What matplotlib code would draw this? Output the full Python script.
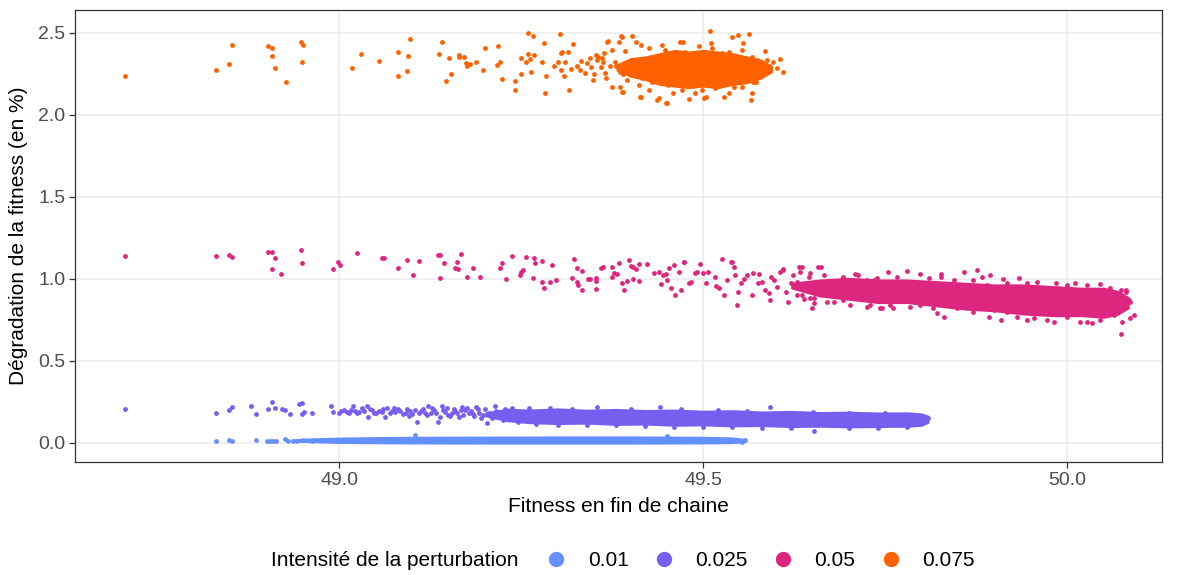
import matplotlib.pyplot as plt
from matplotlib.lines import Line2D

plt.rcParams['font.family'] = ['Liberation Sans', 'DejaVu Sans']

# Intensité 0.01 (bleu)
blue_x = [48.831, 48.848, 48.852, 48.885, 48.901, 48.905, 48.909, 48.913, 48.926, 48.929,
          48.936, 48.942, 48.950, 48.962, 48.975, 48.990, 49.104, 49.450, 49.550, 49.553, 49.557]
blue_y = [0.014, 0.018, 0.010, 0.018, 0.012, 0.013, 0.014, 0.012, 0.022, 0.014,
          0.015, 0.012, 0.018, 0.014, 0.016, 0.013, 0.047, 0.044, 0.015, 0.008, 0.020]
blue_band_x = [48.935, 48.96, 49.00, 49.05, 49.10, 49.20, 49.30, 49.40, 49.50, 49.54, 49.558]
blue_band_lo = [0.006, 0.002, -0.003, -0.005, -0.006, -0.007, -0.007, -0.007, -0.006, -0.004, 0.002]
blue_band_hi = [0.024, 0.031, 0.036, 0.039, 0.041, 0.042, 0.043, 0.043, 0.041, 0.037, 0.028]

# Intensité 0.025 (violet)
purple_x = [48.706, 48.831, 48.848, 48.852, 48.879, 48.885, 48.902, 48.908, 48.912, 48.921,
            48.926, 48.932, 48.945, 48.949, 48.951, 48.949, 48.962, 48.988, 48.992, 48.999,
            49.006, 49.013, 49.019, 49.022, 49.031, 49.038, 49.039, 49.045, 49.054, 49.063,
            49.066, 49.072, 49.081, 49.088, 49.093, 49.100, 49.107, 49.118, 49.122, 49.130,
            49.136, 49.141, 49.150, 49.159, 49.169, 49.178, 49.010, 49.027, 49.048, 49.058,
            49.077, 49.097, 49.112, 49.126, 49.145, 49.155, 49.165, 49.172, 49.185, 49.190,
            49.195, 49.203, 49.214, 49.237, 49.354, 49.441, 49.592, 49.500, 49.652, 49.225,
            49.245, 49.260, 49.290, 49.320, 49.270, 49.300, 49.340, 49.380, 49.420, 49.460,
            49.540, 49.580, 49.620, 49.700, 49.740, 49.780, 49.800, 49.808, 49.700, 49.750,
            49.650, 49.520, 49.470, 49.400, 49.560,
            49.003, 49.016, 49.024, 49.034, 49.042, 49.051, 49.060, 49.069, 49.075, 49.084,
            49.091, 49.096, 49.104, 49.110, 49.115, 49.121, 49.128, 49.133, 49.139, 49.143,
            49.148, 49.152, 49.157, 49.162, 49.167, 49.170, 49.176, 49.181, 49.184, 49.188,
            49.192, 49.198, 49.200, 49.206, 49.210, 49.215, 49.220, 49.228, 49.232, 49.240]
purple_y = [0.205, 0.185, 0.201, 0.221, 0.224, 0.175, 0.209, 0.250, 0.215, 0.205,
            0.199, 0.177, 0.238, 0.246, 0.191, 0.175, 0.181, 0.228, 0.187, 0.181,
            0.201, 0.185, 0.226, 0.197, 0.211, 0.228, 0.160, 0.201, 0.197, 0.157,
            0.211, 0.197, 0.207, 0.177, 0.209, 0.177, 0.130, 0.181, 0.228, 0.201,
            0.130, 0.228, 0.171, 0.197, 0.221, 0.185, 0.190, 0.186, 0.185, 0.190,
            0.188, 0.192, 0.195, 0.185, 0.190, 0.180, 0.160, 0.200, 0.165, 0.205,
            0.150, 0.120, 0.226, 0.211, 0.221, 0.217, 0.221, 0.096, 0.075, 0.140,
            0.130, 0.215, 0.213, 0.210, 0.115, 0.110, 0.108, 0.112, 0.105, 0.100,
            0.098, 0.092, 0.090, 0.090, 0.092, 0.095, 0.120, 0.150, 0.185, 0.182,
            0.190, 0.200, 0.205, 0.210, 0.195,
            0.195, 0.200, 0.182, 0.192, 0.205, 0.183, 0.205, 0.185, 0.215, 0.195,
            0.185, 0.165, 0.200, 0.180, 0.205, 0.170, 0.215, 0.180, 0.160, 0.200,
            0.215, 0.165, 0.210, 0.185, 0.200, 0.170, 0.215, 0.195, 0.175, 0.220,
            0.185, 0.170, 0.205, 0.180, 0.150, 0.195, 0.170, 0.205, 0.160, 0.190]
purple_band_x = [49.20, 49.23, 49.26, 49.30, 49.34, 49.38, 49.42, 49.46, 49.50,
                 49.54, 49.58, 49.62, 49.66, 49.70, 49.74, 49.78, 49.80, 49.81]
purple_band_lo = [0.160, 0.130, 0.118, 0.112, 0.115, 0.107, 0.109, 0.102, 0.104,
                  0.098, 0.100, 0.094, 0.096, 0.092, 0.094, 0.096, 0.102, 0.122]
purple_band_hi = [0.190, 0.212, 0.207, 0.214, 0.206, 0.211, 0.204, 0.207, 0.200,
                  0.203, 0.195, 0.199, 0.192, 0.194, 0.189, 0.190, 0.183, 0.168]

# Intensité 0.05 (magenta)
magenta_x = [48.706, 48.831, 48.848, 48.852, 48.902, 48.908, 48.912, 48.908, 48.920, 48.948,
             48.949, 48.991, 48.998, 49.001, 49.025, 49.058, 49.061, 49.081, 49.093, 49.101,
             49.109, 49.136, 49.139, 49.138, 49.144, 49.162, 49.167, 49.159, 49.163, 49.175,
             49.183, 49.193, 49.221, 49.224, 49.237, 49.229, 49.248, 49.250, 49.252, 49.257,
             49.267, 49.269, 49.278, 49.266, 49.278, 49.281, 49.290, 49.292, 49.298, 49.323,
             49.326, 49.320, 49.327, 49.328, 49.333, 49.334, 49.341, 49.345, 49.352, 49.353,
             49.352, 49.359, 49.362, 49.374, 49.377, 49.381, 49.375, 49.384, 49.388, 49.391,
             49.395, 49.398, 49.401, 49.404, 49.407, 49.411, 49.404, 49.412, 49.423, 49.432,
             49.439, 49.442, 49.445, 49.449, 49.450, 49.453, 49.455, 49.460, 49.461, 49.467,
             49.469, 49.473, 49.480, 49.483, 49.489, 49.492, 49.496, 49.499, 49.503, 49.507,
             49.516, 49.518, 49.521, 49.526, 49.528, 49.532, 49.538, 49.542, 49.544, 49.546,
             49.548, 49.552, 49.556, 49.560, 49.567, 49.568, 49.575, 49.577, 49.580, 49.585,
             49.590, 49.593, 49.597, 49.601, 49.606, 49.609, 49.613, 49.616, 49.620, 49.623,
             49.628, 49.631, 49.635, 49.638, 49.642, 49.646, 49.649, 49.652, 49.656, 49.658,
             49.635, 49.666, 49.645, 49.649, 49.692, 49.709, 49.753, 49.780, 49.797, 49.826,
             49.858, 49.876, 49.894, 49.883, 49.912, 49.934, 50.010, 50.073, 50.081, 50.086,
             50.075, 50.086, 50.074, 49.830, 49.821, 49.892, 49.909, 49.945, 49.972, 50.034,
             50.018, 49.473, 49.539, 49.661, 49.745, 49.761, 49.729, 49.702, 49.592, 49.633,
             49.610, 49.692, 49.713, 49.734, 49.679, 49.688, 49.710, 49.734, 49.752, 49.766,
             49.666, 49.652, 49.670, 49.628, 49.692, 49.725, 49.871, 49.890, 49.917, 49.945,
             49.958, 49.984, 49.999, 50.027, 50.045, 50.059, 50.066, 50.070, 50.064, 50.045,
             50.027, 49.999, 49.981, 49.954, 49.931, 49.917, 49.899, 49.871, 49.848, 49.816,
             49.798, 49.784, 49.771, 49.757, 49.743, 49.725, 49.679, 49.647, 49.826, 49.844,
             49.810, 49.790, 49.766, 49.739, 49.725, 49.679, 49.657, 50.091, 50.084, 50.080]
magenta_y = [1.140, 1.142, 1.148, 1.132, 1.165, 1.165, 1.130, 1.063, 1.030, 1.177,
             1.099, 1.063, 1.104, 1.085, 1.160, 1.130, 1.130, 1.069, 1.114, 1.026,
             1.108, 1.148, 1.148, 1.008, 1.099, 1.104, 1.154, 1.067, 1.059, 1.012,
             1.069, 1.010, 1.065, 1.099, 1.142, 1.002, 1.022, 1.045, 1.055, 1.136,
             1.130, 1.096, 1.108, 1.008, 0.980, 0.943, 0.984, 1.083, 0.992, 1.120,
             1.065, 1.004, 0.984, 0.962, 0.933, 1.049, 1.002, 0.998, 1.004, 0.941,
             0.990, 1.065, 1.071, 1.075, 1.035, 1.029, 1.010, 1.099, 0.974, 0.933,
             0.990, 1.114, 1.081, 1.071, 1.063, 1.091, 1.002, 0.988, 1.091, 1.039,
             1.045, 0.968, 1.024, 1.030, 0.994, 1.065, 0.943, 1.085, 0.902, 1.041,
             0.933, 1.104, 0.974, 0.980, 1.035, 1.045, 1.091, 1.035, 0.974, 1.041,
             1.010, 0.955, 0.943, 1.120, 0.902, 0.994, 1.104, 1.075, 1.024, 0.841,
             0.923, 0.974, 0.998, 1.024, 0.902, 1.035, 0.978, 1.029, 0.980, 0.933,
             0.913, 1.014, 0.994, 0.953, 1.045, 1.059, 0.923, 0.858, 0.974, 1.024,
             0.984, 1.071, 0.902, 0.876, 0.953, 1.035, 0.933, 0.852, 0.963, 1.075,
             1.071, 1.026, 1.010, 0.821, 1.014, 1.029, 1.045, 1.049, 1.030, 1.030,
             1.045, 1.057, 1.026, 1.010, 0.998, 1.004, 0.978, 0.933, 0.923, 0.862,
             0.740, 0.760, 0.663, 0.770, 0.791, 0.770, 0.750, 0.750, 0.750, 0.730,
             0.740, 1.106, 1.106, 1.075, 0.821, 0.825, 0.841, 0.841, 0.872, 1.045,
             1.055, 1.004, 1.024, 0.994, 0.963, 0.923, 0.923, 0.902, 0.923, 0.943,
             0.913, 0.882, 0.862, 0.902, 0.872, 0.953, 0.994, 0.963, 0.974, 0.978,
             0.984, 0.974, 0.963, 0.963, 0.970, 0.943, 0.902, 0.831, 0.780, 0.750,
             0.740, 0.770, 0.740, 0.760, 0.770, 0.801, 0.811, 0.801, 0.821, 0.821,
             0.841, 0.831, 0.872, 0.841, 0.821, 0.831, 0.862, 0.882, 1.014, 0.994,
             1.004, 0.984, 1.014, 1.004, 0.994, 0.984, 0.974, 0.780, 0.872, 0.933]
magenta_core_x = [49.62, 49.66, 49.70, 49.74, 49.78, 49.82, 49.86, 49.90, 49.94,
                  49.98, 50.02, 50.05, 50.07, 50.085]
magenta_core_lo = [0.94, 0.89, 0.87, 0.85, 0.85, 0.83, 0.81, 0.80, 0.78,
                   0.77, 0.77, 0.76, 0.78, 0.82]
magenta_core_hi = [0.98, 1.00, 1.01, 1.00, 1.00, 0.99, 0.98, 0.97, 0.97,
                   0.96, 0.95, 0.95, 0.93, 0.89]

# Intensité 0.075 (orange)
orange_x = [48.706, 48.831, 48.848, 48.852, 48.902, 48.908, 48.908, 48.912, 48.927, 48.948,
            48.950, 48.949, 49.018, 49.030, 49.054, 49.081, 49.080, 49.094, 49.093, 49.097,
            49.137, 49.141, 49.146, 49.154, 49.151, 49.164, 49.165, 49.171, 49.174, 49.175,
            49.180, 49.188, 49.198, 49.200, 49.218, 49.217, 49.221, 49.223, 49.242, 49.242,
            49.249, 49.249, 49.259, 49.266, 49.259, 49.267, 49.257, 49.262, 49.264, 49.281,
            49.278, 49.284, 49.282, 49.303, 49.304, 49.306, 49.314, 49.321, 49.301, 49.310,
            49.295, 49.305, 49.308, 49.316, 49.318, 49.326, 49.332, 49.340, 49.330, 49.338,
            49.349, 49.346, 49.352, 49.354, 49.362, 49.363, 49.368, 49.374, 49.375, 49.385,
            49.387, 49.389, 49.402, 49.413, 49.437, 49.450, 49.480, 49.501, 49.509, 49.548,
            49.563, 49.539, 49.555, 49.567, 49.566, 49.605, 49.609, 49.601, 49.585, 49.587,
            49.581, 49.573, 49.568, 49.369, 49.384, 49.388, 49.407, 49.414, 49.425, 49.443,
            49.448, 49.468, 49.472, 49.494, 49.510, 49.512, 49.553, 49.356, 49.361, 49.365,
            49.367, 49.388, 49.386, 49.395, 49.400, 49.393, 49.411, 49.414, 49.425, 49.420,
            49.432, 49.436, 49.439, 49.449, 49.459, 49.471, 49.489, 49.503, 49.498, 49.516,
            49.528, 49.535, 49.542, 49.553, 49.571, 49.578, 49.574, 49.567, 49.457, 49.475,
            49.525, 49.535, 49.544, 49.379, 49.405, 49.416, 49.409, 49.427, 49.443, 49.445,
            49.452, 49.372, 49.395, 49.380, 49.390, 49.398, 49.402, 49.418, 49.422, 49.430,
            49.434, 49.440, 49.446, 49.455, 49.462, 49.470, 49.485, 49.492, 49.505, 49.520,
            49.530, 49.548, 49.558, 49.562, 49.575, 49.590, 49.596, 49.360, 49.350, 49.344]
orange_y = [2.240, 2.272, 2.309, 2.425, 2.423, 2.410, 2.360, 2.285, 2.203, 2.443,
            2.425, 2.323, 2.289, 2.374, 2.327, 2.384, 2.238, 2.362, 2.268, 2.465,
            2.372, 2.445, 2.207, 2.248, 2.349, 2.356, 2.366, 2.354, 2.319, 2.299,
            2.313, 2.321, 2.274, 2.409, 2.419, 2.303, 2.323, 2.218, 2.205, 2.152,
            2.345, 2.252, 2.498, 2.482, 2.370, 2.366, 2.321, 2.339, 2.264, 2.437,
            2.321, 2.238, 2.134, 2.496, 2.376, 2.386, 2.384, 2.431, 2.321, 2.321,
            2.296, 2.274, 2.238, 2.150, 2.278, 2.296, 2.327, 2.319, 2.274, 2.258,
            2.213, 2.290, 2.366, 2.335, 2.325, 2.376, 2.445, 2.396, 2.169, 2.173,
            2.482, 2.140, 2.484, 2.110, 2.093, 2.075, 2.100, 2.101, 2.514, 2.490,
            2.496, 2.477, 2.437, 2.132, 2.091, 2.343, 2.260, 2.285, 2.390, 2.335,
            2.285, 2.203, 2.203, 2.451, 2.443, 2.478, 2.443, 2.427, 2.407, 2.427,
            2.396, 2.447, 2.443, 2.423, 2.437, 2.407, 2.396, 2.356, 2.345, 2.254,
            2.224, 2.142, 2.264, 2.213, 2.335, 2.390, 2.183, 2.112, 2.152, 2.285,
            2.345, 2.244, 2.101, 2.071, 2.132, 2.152, 2.132, 2.112, 2.152, 2.162,
            2.112, 2.132, 2.173, 2.173, 2.203, 2.244, 2.335, 2.356, 2.376, 2.386,
            2.376, 2.386, 2.356, 2.325, 2.254, 2.224, 2.296, 2.305, 2.317, 2.224,
            2.183, 2.296, 2.285, 2.300, 2.250, 2.310, 2.270, 2.340, 2.260, 2.200,
            2.290, 2.350, 2.270, 2.330, 2.210, 2.370, 2.180, 2.370, 2.180, 2.360,
            2.190, 2.330, 2.230, 2.300, 2.270, 2.300, 2.320, 2.290, 2.250, 2.350]
orange_core_x = [49.38, 49.40, 49.42, 49.44, 49.46, 49.48, 49.50, 49.52,
                 49.54, 49.56, 49.58, 49.595]
orange_core_lo = [2.27, 2.23, 2.21, 2.18, 2.17, 2.16, 2.17, 2.16, 2.18, 2.19, 2.22, 2.26]
orange_core_hi = [2.31, 2.35, 2.36, 2.38, 2.40, 2.39, 2.40, 2.39, 2.38, 2.36, 2.34, 2.30]

levels = ['0.01', '0.025', '0.05', '0.075']
colors = ['#648FFF', '#785EF0', '#DC267F', '#FE6100']

x_ticks = [49.0, 49.5, 50.0]
y_ticks = [0.0, 0.5, 1.0, 1.5, 2.0, 2.5]

fig = plt.figure(figsize=(11.79, 5.75), dpi=100)
ax = fig.add_axes([75/1179, 1 - 462/575, 1087/1179, 452/575])

series = [
    (blue_x, blue_y, blue_band_x, blue_band_lo, blue_band_hi),
    (purple_x, purple_y, purple_band_x, purple_band_lo, purple_band_hi),
    (magenta_x, magenta_y, magenta_core_x, magenta_core_lo, magenta_core_hi),
    (orange_x, orange_y, orange_core_x, orange_core_lo, orange_core_hi),
]
for (px, py, bx, blo, bhi), c in zip(series, colors):
    ax.fill_between(bx, blo, bhi, color=c, linewidth=0, zorder=2)
    ax.scatter(px, py, s=12, color=c, linewidths=0, zorder=3)

ax.set_xlim(48.637, 50.130)
ax.set_ylim(-0.116, 2.640)
ax.set_xticks(x_ticks)
ax.set_xticklabels([f'{v:.1f}' for v in x_ticks])
ax.set_yticks(y_ticks)
ax.set_yticklabels([f'{v:.1f}' for v in y_ticks])
ax.grid(True, color='#EBEBEB', linewidth=1.1, zorder=0)
ax.set_axisbelow(True)
for sp in ax.spines.values():
    sp.set_color('#333333')
    sp.set_linewidth(0.9)
ax.tick_params(length=4, width=0.9, color='#333333', labelsize=14,
               labelcolor='#4D4D4D', pad=3)

ax.set_xlabel('Fitness en fin de chaine', fontsize=15, labelpad=6)
ax.set_ylabel('Dégradation de la fitness (en %)', fontsize=15, labelpad=7)

handles = [Line2D([], [], marker='o', linestyle='', color=c, markersize=10)
           for c in colors]
fig.text(271/1179, 1 - 561/575, 'Intensité de la perturbation',
         fontsize=15, va='center', ha='left')
fig.legend(handles, levels, loc='center left',
           bbox_to_anchor=(546/1179, 1 - 561/575), ncol=4, frameon=False,
           fontsize=15, handlelength=1.0, handletextpad=1.0, columnspacing=1.2,
           borderpad=0, borderaxespad=0)

fig.savefig('out.png', dpi=100)
